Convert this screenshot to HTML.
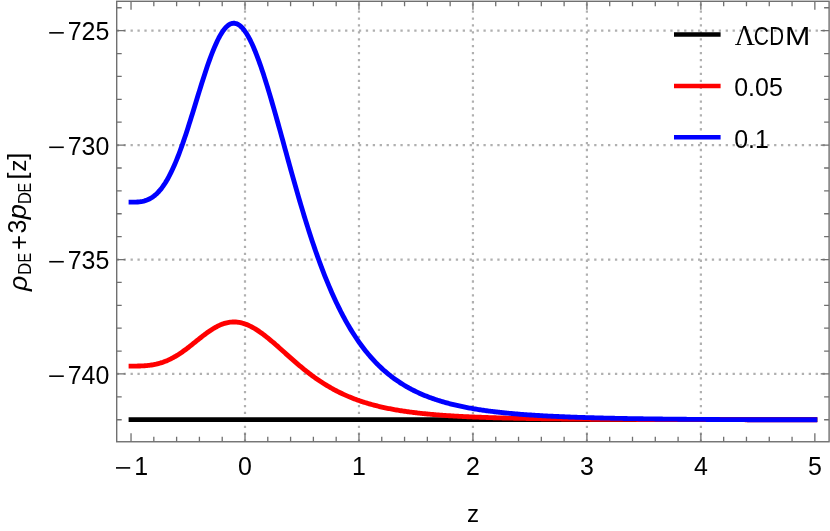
<!DOCTYPE html>
<html><head><meta charset="utf-8"><title>plot</title>
<style>html,body{margin:0;padding:0;background:#fff}svg{display:block;will-change:transform}text{font-family:"Liberation Sans",sans-serif;fill:#000}</style></head><body>
<svg width="830" height="531" viewBox="0 0 830 531">
<rect width="830" height="531" fill="#fff"/>
<path d="M245.00,441.8 V1 M358.97,441.8 V1 M472.94,441.8 V1 M586.91,441.8 V1 M700.88,441.8 V1 M116.7,30.65 H829 M116.7,145.09 H829 M116.7,259.53 H829 M116.7,373.97 H829" stroke="#b0b0b0" stroke-width="2.2" stroke-dasharray="2.3 4.62" fill="none"/>
<path d="M131.03,441.75 v-8.4 M131.03,1.3 v8.4 M153.82,441.75 v-5.0 M153.82,1.3 v5.0 M176.62,441.75 v-5.0 M176.62,1.3 v5.0 M199.41,441.75 v-5.0 M199.41,1.3 v5.0 M222.21,441.75 v-5.0 M222.21,1.3 v5.0 M245.00,441.75 v-8.4 M245.00,1.3 v8.4 M267.79,441.75 v-5.0 M267.79,1.3 v5.0 M290.59,441.75 v-5.0 M290.59,1.3 v5.0 M313.38,441.75 v-5.0 M313.38,1.3 v5.0 M336.18,441.75 v-5.0 M336.18,1.3 v5.0 M358.97,441.75 v-8.4 M358.97,1.3 v8.4 M381.76,441.75 v-5.0 M381.76,1.3 v5.0 M404.56,441.75 v-5.0 M404.56,1.3 v5.0 M427.35,441.75 v-5.0 M427.35,1.3 v5.0 M450.15,441.75 v-5.0 M450.15,1.3 v5.0 M472.94,441.75 v-8.4 M472.94,1.3 v8.4 M495.73,441.75 v-5.0 M495.73,1.3 v5.0 M518.53,441.75 v-5.0 M518.53,1.3 v5.0 M541.32,441.75 v-5.0 M541.32,1.3 v5.0 M564.12,441.75 v-5.0 M564.12,1.3 v5.0 M586.91,441.75 v-8.4 M586.91,1.3 v8.4 M609.70,441.75 v-5.0 M609.70,1.3 v5.0 M632.50,441.75 v-5.0 M632.50,1.3 v5.0 M655.29,441.75 v-5.0 M655.29,1.3 v5.0 M678.09,441.75 v-5.0 M678.09,1.3 v5.0 M700.88,441.75 v-8.4 M700.88,1.3 v8.4 M723.67,441.75 v-5.0 M723.67,1.3 v5.0 M746.47,441.75 v-5.0 M746.47,1.3 v5.0 M769.26,441.75 v-5.0 M769.26,1.3 v5.0 M792.06,441.75 v-5.0 M792.06,1.3 v5.0 M814.85,441.75 v-8.4 M814.85,1.3 v8.4 M116.7,419.75 h5.0 M829.1,419.75 h-5.0 M116.7,396.86 h5.0 M829.1,396.86 h-5.0 M116.7,373.97 h8.4 M829.1,373.97 h-8.4 M116.7,351.08 h5.0 M829.1,351.08 h-5.0 M116.7,328.19 h5.0 M829.1,328.19 h-5.0 M116.7,305.31 h5.0 M829.1,305.31 h-5.0 M116.7,282.42 h5.0 M829.1,282.42 h-5.0 M116.7,259.53 h8.4 M829.1,259.53 h-8.4 M116.7,236.64 h5.0 M829.1,236.64 h-5.0 M116.7,213.75 h5.0 M829.1,213.75 h-5.0 M116.7,190.87 h5.0 M829.1,190.87 h-5.0 M116.7,167.98 h5.0 M829.1,167.98 h-5.0 M116.7,145.09 h8.4 M829.1,145.09 h-8.4 M116.7,122.20 h5.0 M829.1,122.20 h-5.0 M116.7,99.31 h5.0 M829.1,99.31 h-5.0 M116.7,76.43 h5.0 M829.1,76.43 h-5.0 M116.7,53.54 h5.0 M829.1,53.54 h-5.0 M116.7,30.65 h8.4 M829.1,30.65 h-8.4 M116.7,7.76 h5.0 M829.1,7.76 h-5.0" stroke="#707070" stroke-width="1.3" fill="none"/>
<rect x="116.7" y="1.3" width="712.40" height="440.45" fill="none" stroke="#707070" stroke-width="1.4"/>
<path d="M131.03,419.65 H814.85" stroke="#000" stroke-width="4.85" stroke-linecap="square" fill="none"/>
<path d="M131.03,366.07 L132.17,366.07 L133.31,366.07 L134.45,366.07 L135.59,366.06 L136.73,366.05 L137.87,366.03 L139.01,366.00 L140.15,365.97 L141.29,365.93 L142.43,365.87 L143.57,365.81 L144.71,365.74 L145.85,365.65 L146.99,365.55 L148.13,365.43 L149.27,365.30 L150.40,365.15 L151.54,364.98 L152.68,364.80 L153.82,364.59 L154.96,364.37 L156.10,364.13 L157.24,363.86 L158.38,363.57 L159.52,363.26 L160.66,362.93 L161.80,362.57 L162.94,362.19 L164.08,361.78 L165.22,361.35 L166.36,360.89 L167.50,360.41 L168.64,359.90 L169.78,359.37 L170.92,358.81 L172.06,358.22 L173.20,357.62 L174.34,356.98 L175.48,356.33 L176.62,355.65 L177.76,354.94 L178.90,354.22 L180.04,353.47 L181.18,352.70 L182.32,351.91 L183.46,351.10 L184.60,350.28 L185.74,349.44 L186.88,348.58 L188.01,347.72 L189.15,346.84 L190.29,345.94 L191.43,345.04 L192.57,344.14 L193.71,343.22 L194.85,342.31 L195.99,341.39 L197.13,340.47 L198.27,339.56 L199.41,338.64 L200.55,337.74 L201.69,336.84 L202.83,335.95 L203.97,335.07 L205.11,334.21 L206.25,333.36 L207.39,332.53 L208.53,331.73 L209.67,330.94 L210.81,330.17 L211.95,329.43 L213.09,328.72 L214.23,328.03 L215.37,327.38 L216.51,326.76 L217.65,326.17 L218.79,325.61 L219.93,325.09 L221.07,324.61 L222.21,324.16 L223.35,323.76 L224.49,323.39 L225.63,323.07 L226.76,322.78 L227.90,322.54 L229.04,322.34 L230.18,322.18 L231.32,322.07 L232.46,322.00 L233.60,321.97 L234.74,321.98 L235.88,322.04 L237.02,322.14 L238.16,322.28 L239.30,322.46 L240.44,322.68 L241.58,322.94 L242.72,323.24 L243.86,323.59 L245.00,323.96 L246.14,324.38 L247.28,324.83 L248.42,325.32 L249.56,325.84 L250.70,326.40 L251.84,326.99 L252.98,327.60 L254.12,328.25 L255.26,328.93 L256.40,329.64 L257.54,330.37 L258.68,331.13 L259.82,331.91 L260.96,332.72 L262.10,333.54 L263.24,334.39 L264.37,335.25 L265.51,336.14 L266.65,337.04 L267.79,337.95 L268.93,338.88 L270.07,339.83 L271.21,340.78 L272.35,341.75 L273.49,342.72 L274.63,343.70 L275.77,344.70 L276.91,345.69 L278.05,346.69 L279.19,347.70 L280.33,348.71 L281.47,349.72 L282.61,350.75 L283.75,351.78 L284.89,352.80 L286.03,353.83 L287.17,354.85 L288.31,355.87 L289.45,356.89 L290.59,357.90 L291.73,358.91 L292.87,359.91 L294.01,360.91 L295.15,361.90 L296.29,362.88 L297.43,363.86 L298.57,364.82 L299.71,365.78 L300.85,366.73 L301.99,367.68 L303.12,368.61 L304.26,369.53 L305.40,370.44 L306.54,371.34 L307.68,372.23 L308.82,373.11 L309.96,373.98 L311.10,374.84 L312.24,375.69 L313.38,376.52 L314.52,377.35 L315.66,378.16 L316.80,378.96 L317.94,379.74 L319.08,380.52 L320.22,381.28 L321.36,382.03 L322.50,382.77 L323.64,383.50 L324.78,384.22 L325.92,384.92 L327.06,385.61 L328.20,386.29 L329.34,386.96 L330.48,387.62 L331.62,388.26 L332.76,388.90 L333.90,389.52 L335.04,390.13 L336.18,390.73 L337.32,391.32 L338.46,391.90 L339.60,392.46 L340.73,393.02 L341.87,393.56 L343.01,394.10 L344.15,394.62 L345.29,395.14 L346.43,395.64 L347.57,396.13 L348.71,396.62 L349.85,397.09 L350.99,397.56 L352.13,398.01 L353.27,398.46 L354.41,398.90 L355.55,399.32 L356.69,399.74 L357.83,400.16 L358.97,400.56 L360.11,400.95 L361.25,401.34 L362.39,401.72 L363.53,402.09 L364.67,402.45 L365.81,402.80 L366.95,403.15 L368.09,403.49 L369.23,403.82 L370.37,404.15 L371.51,404.47 L372.65,404.78 L373.79,405.09 L374.93,405.38 L376.07,405.68 L377.21,405.96 L378.34,406.24 L379.48,406.52 L380.62,406.79 L381.76,407.05 L382.90,407.30 L384.04,407.56 L385.18,407.80 L386.32,408.04 L387.46,408.28 L388.60,408.51 L389.74,408.73 L390.88,408.96 L392.02,409.17 L393.16,409.38 L394.30,409.59 L395.44,409.79 L396.58,409.99 L397.72,410.18 L398.86,410.37 L400.00,410.56 L401.14,410.74 L402.28,410.92 L403.42,411.09 L404.56,411.26 L405.70,411.43 L406.84,411.59 L407.98,411.75 L409.12,411.91 L410.26,412.06 L411.40,412.21 L412.54,412.35 L413.68,412.50 L414.82,412.64 L415.95,412.77 L417.09,412.91 L418.23,413.04 L419.37,413.17 L420.51,413.29 L421.65,413.42 L422.79,413.54 L423.93,413.65 L425.07,413.77 L426.21,413.88 L427.35,413.99 L428.49,414.10 L429.63,414.21 L430.77,414.31 L431.91,414.41 L433.05,414.51 L434.19,414.61 L435.33,414.71 L436.47,414.80 L437.61,414.89 L438.75,414.98 L439.89,415.07 L441.03,415.16 L442.17,415.24 L443.31,415.32 L444.45,415.40 L445.59,415.48 L446.73,415.56 L447.87,415.64 L449.01,415.71 L450.15,415.78 L451.29,415.85 L452.43,415.92 L453.57,415.99 L454.70,416.06 L455.84,416.13 L456.98,416.19 L458.12,416.25 L459.26,416.32 L460.40,416.38 L461.54,416.44 L462.68,416.49 L463.82,416.55 L464.96,416.61 L466.10,416.66 L467.24,416.72 L468.38,416.77 L469.52,416.82 L470.66,416.87 L471.80,416.92 L472.94,416.97 L474.08,417.02 L475.22,417.07 L476.36,417.11 L477.50,417.16 L478.64,417.20 L479.78,417.24 L480.92,417.29 L482.06,417.33 L483.20,417.37 L484.34,417.41 L485.48,417.45 L486.62,417.49 L487.76,417.53 L488.90,417.56 L490.04,417.60 L491.18,417.64 L492.31,417.67 L493.45,417.71 L494.59,417.74 L495.73,417.77 L496.87,417.80 L498.01,417.84 L499.15,417.87 L500.29,417.90 L501.43,417.93 L502.57,417.96 L503.71,417.99 L504.85,418.02 L505.99,418.05 L507.13,418.07 L508.27,418.10 L509.41,418.13 L510.55,418.15 L511.69,418.18 L512.83,418.20 L513.97,418.23 L515.11,418.25 L516.25,418.28 L517.39,418.30 L518.53,418.32 L519.67,418.35 L520.81,418.37 L521.95,418.39 L523.09,418.41 L524.23,418.43 L525.37,418.45 L526.51,418.47 L527.65,418.49 L528.79,418.51 L529.92,418.53 L531.06,418.55 L532.20,418.57 L533.34,418.59 L534.48,418.61 L535.62,418.62 L536.76,418.64 L537.90,418.66 L539.04,418.68 L540.18,418.69 L541.32,418.71 L542.46,418.72 L543.60,418.74 L544.74,418.76 L545.88,418.77 L547.02,418.79 L548.16,418.80 L549.30,418.81 L550.44,418.83 L551.58,418.84 L552.72,418.86 L553.86,418.87 L555.00,418.88 L556.14,418.90 L557.28,418.91 L558.42,418.92 L559.56,418.93 L560.70,418.95 L561.84,418.96 L562.98,418.97 L564.12,418.98 L565.26,418.99 L566.40,419.00 L567.54,419.02 L568.67,419.03 L569.81,419.04 L570.95,419.05 L572.09,419.06 L573.23,419.07 L574.37,419.08 L575.51,419.09 L576.65,419.10 L577.79,419.11 L578.93,419.12 L580.07,419.13 L581.21,419.14 L582.35,419.15 L583.49,419.15 L584.63,419.16 L585.77,419.17 L586.91,419.18 L588.05,419.19 L589.19,419.20 L590.33,419.21 L591.47,419.21 L592.61,419.22 L593.75,419.23 L594.89,419.24 L596.03,419.24 L597.17,419.25 L598.31,419.26 L599.45,419.27 L600.59,419.27 L601.73,419.28 L602.87,419.29 L604.01,419.29 L605.15,419.30 L606.28,419.31 L607.42,419.31 L608.56,419.32 L609.70,419.33 L610.84,419.33 L611.98,419.34 L613.12,419.34 L614.26,419.35 L615.40,419.36 L616.54,419.36 L617.68,419.37 L618.82,419.37 L619.96,419.38 L621.10,419.38 L622.24,419.39 L623.38,419.40 L624.52,419.40 L625.66,419.41 L626.80,419.41 L627.94,419.42 L629.08,419.42 L630.22,419.43 L631.36,419.43 L632.50,419.44 L633.64,419.44 L634.78,419.44 L635.92,419.45 L637.06,419.45 L638.20,419.46 L639.34,419.46 L640.48,419.47 L641.62,419.47 L642.76,419.47 L643.89,419.48 L645.03,419.48 L646.17,419.49 L647.31,419.49 L648.45,419.50 L649.59,419.50 L650.73,419.50 L651.87,419.51 L653.01,419.51 L654.15,419.51 L655.29,419.52 L656.43,419.52 L657.57,419.52 L658.71,419.53 L659.85,419.53 L660.99,419.53 L662.13,419.54 L663.27,419.54 L664.41,419.54 L665.55,419.55 L666.69,419.55 L667.83,419.55 L668.97,419.56 L670.11,419.56 L671.25,419.56 L672.39,419.57 L673.53,419.57 L674.67,419.57 L675.81,419.58 L676.95,419.58 L678.09,419.58 L679.23,419.58 L680.37,419.59 L681.51,419.59 L682.64,419.59 L683.78,419.59 L684.92,419.60 L686.06,419.60 L687.20,419.60 L688.34,419.60 L689.48,419.61 L690.62,419.61 L691.76,419.61 L692.90,419.61 L694.04,419.62 L695.18,419.62 L696.32,419.62 L697.46,419.62 L698.60,419.63 L699.74,419.63 L700.88,419.63 L702.02,419.63 L703.16,419.63 L704.30,419.64 L705.44,419.64 L706.58,419.64 L707.72,419.64 L708.86,419.64 L710.00,419.65 L711.14,419.65 L712.28,419.65 L713.42,419.65 L714.56,419.65 L715.70,419.66 L716.84,419.66 L717.98,419.66 L719.12,419.66 L720.25,419.66 L721.39,419.66 L722.53,419.67 L723.67,419.67 L724.81,419.67 L725.95,419.67 L727.09,419.67 L728.23,419.68 L729.37,419.68 L730.51,419.68 L731.65,419.68 L732.79,419.68 L733.93,419.68 L735.07,419.68 L736.21,419.69 L737.35,419.69 L738.49,419.69 L739.63,419.69 L740.77,419.69 L741.91,419.69 L743.05,419.69 L744.19,419.70 L745.33,419.70 L746.47,419.70 L747.61,419.70 L748.75,419.70 L749.89,419.70 L751.03,419.70 L752.17,419.70 L753.31,419.70 L754.45,419.70 L755.59,419.70 L756.73,419.70 L757.87,419.70 L759.00,419.70 L760.14,419.70 L761.28,419.70 L762.42,419.70 L763.56,419.70 L764.70,419.70 L765.84,419.70 L766.98,419.70 L768.12,419.70 L769.26,419.70 L770.40,419.70 L771.54,419.70 L772.68,419.70 L773.82,419.70 L774.96,419.70 L776.10,419.70 L777.24,419.70 L778.38,419.70 L779.52,419.70 L780.66,419.70 L781.80,419.70 L782.94,419.70 L784.08,419.70 L785.22,419.70 L786.36,419.70 L787.50,419.70 L788.64,419.70 L789.78,419.70 L790.92,419.70 L792.06,419.70 L793.20,419.70 L794.34,419.70 L795.48,419.70 L796.61,419.70 L797.75,419.70 L798.89,419.70 L800.03,419.70 L801.17,419.70 L802.31,419.70 L803.45,419.70 L804.59,419.70 L805.73,419.70 L806.87,419.70 L808.01,419.70 L809.15,419.70 L810.29,419.70 L811.43,419.70 L812.57,419.70 L813.71,419.70 L814.85,419.70" stroke="#f00" stroke-width="4.85" stroke-linecap="square" stroke-linejoin="round" fill="none"/>
<path d="M131.03,202.15 L132.17,202.15 L133.31,202.14 L134.45,202.12 L135.59,202.09 L136.73,202.04 L137.87,201.96 L139.01,201.86 L140.15,201.72 L141.29,201.55 L142.43,201.34 L143.57,201.08 L144.71,200.78 L145.85,200.42 L146.99,200.01 L148.13,199.54 L149.27,199.00 L150.40,198.40 L151.54,197.73 L152.68,196.98 L153.82,196.15 L154.96,195.24 L156.10,194.25 L157.24,193.17 L158.38,192.00 L159.52,190.74 L160.66,189.38 L161.80,187.93 L162.94,186.38 L164.08,184.73 L165.22,182.97 L166.36,181.12 L167.50,179.16 L168.64,177.10 L169.78,174.94 L170.92,172.68 L172.06,170.31 L173.20,167.84 L174.34,165.27 L175.48,162.61 L176.62,159.84 L177.76,156.99 L178.90,154.04 L180.04,151.01 L181.18,147.89 L182.32,144.69 L183.46,141.42 L184.60,138.08 L185.74,134.67 L186.88,131.20 L188.01,127.68 L189.15,124.10 L190.29,120.49 L191.43,116.84 L192.57,113.16 L193.71,109.45 L194.85,105.74 L195.99,102.01 L197.13,98.29 L198.27,94.57 L199.41,90.87 L200.55,87.20 L201.69,83.55 L202.83,79.95 L203.97,76.39 L205.11,72.89 L206.25,69.45 L207.39,66.09 L208.53,62.80 L209.67,59.61 L210.81,56.50 L211.95,53.50 L213.09,50.61 L214.23,47.83 L215.37,45.18 L216.51,42.65 L217.65,40.26 L218.79,38.00 L219.93,35.90 L221.07,33.94 L222.21,32.13 L223.35,30.48 L224.49,29.00 L225.63,27.68 L226.76,26.52 L227.90,25.54 L229.04,24.73 L230.18,24.09 L231.32,23.62 L232.46,23.33 L233.60,23.22 L234.74,23.28 L235.88,23.51 L237.02,23.91 L238.16,24.48 L239.30,25.21 L240.44,26.11 L241.58,27.18 L242.72,28.40 L243.86,29.78 L245.00,31.32 L246.14,33.00 L247.28,34.84 L248.42,36.82 L249.56,38.94 L250.70,41.19 L251.84,43.57 L252.98,46.09 L254.12,48.72 L255.26,51.47 L256.40,54.34 L257.54,57.31 L258.68,60.38 L259.82,63.56 L260.96,66.82 L262.10,70.17 L263.24,73.61 L264.37,77.12 L265.51,80.71 L266.65,84.36 L267.79,88.07 L268.93,91.84 L270.07,95.67 L271.21,99.54 L272.35,103.46 L273.49,107.41 L274.63,111.40 L275.77,115.42 L276.91,119.47 L278.05,123.53 L279.19,127.62 L280.33,131.71 L281.47,135.82 L282.61,139.98 L283.75,144.14 L284.89,148.30 L286.03,152.46 L287.17,156.61 L288.31,160.75 L289.45,164.88 L290.59,168.98 L291.73,173.07 L292.87,177.14 L294.01,181.19 L295.15,185.20 L296.29,189.19 L297.43,193.15 L298.57,197.08 L299.71,200.97 L300.85,204.83 L301.99,208.65 L303.12,212.43 L304.26,216.17 L305.40,219.87 L306.54,223.53 L307.68,227.14 L308.82,230.71 L309.96,234.24 L311.10,237.72 L312.24,241.15 L313.38,244.54 L314.52,247.87 L315.66,251.17 L316.80,254.41 L317.94,257.61 L319.08,260.75 L320.22,263.85 L321.36,266.90 L322.50,269.90 L323.64,272.85 L324.78,275.76 L325.92,278.61 L327.06,281.42 L328.20,284.18 L329.34,286.89 L330.48,289.55 L331.62,292.17 L332.76,294.74 L333.90,297.27 L335.04,299.74 L336.18,302.18 L337.32,304.56 L338.46,306.90 L339.60,309.20 L340.73,311.46 L341.87,313.67 L343.01,315.84 L344.15,317.96 L345.29,320.05 L346.43,322.09 L347.57,324.10 L348.71,326.06 L349.85,327.99 L350.99,329.87 L352.13,331.72 L353.27,333.53 L354.41,335.30 L355.55,337.04 L356.69,338.74 L357.83,340.41 L358.97,342.04 L360.11,343.64 L361.25,345.21 L362.39,346.74 L363.53,348.24 L364.67,349.71 L365.81,351.15 L366.95,352.56 L368.09,353.94 L369.23,355.29 L370.37,356.61 L371.51,357.91 L372.65,359.17 L373.79,360.41 L374.93,361.62 L376.07,362.81 L377.21,363.97 L378.34,365.11 L379.48,366.22 L380.62,367.31 L381.76,368.37 L382.90,369.42 L384.04,370.44 L385.18,371.43 L386.32,372.41 L387.46,373.37 L388.60,374.30 L389.74,375.22 L390.88,376.11 L392.02,376.99 L393.16,377.84 L394.30,378.68 L395.44,379.50 L396.58,380.31 L397.72,381.09 L398.86,381.86 L400.00,382.61 L401.14,383.35 L402.28,384.07 L403.42,384.77 L404.56,385.46 L405.70,386.14 L406.84,386.80 L407.98,387.45 L409.12,388.08 L410.26,388.70 L411.40,389.30 L412.54,389.90 L413.68,390.48 L414.82,391.04 L415.95,391.60 L417.09,392.14 L418.23,392.68 L419.37,393.20 L420.51,393.71 L421.65,394.21 L422.79,394.70 L423.93,395.18 L425.07,395.64 L426.21,396.10 L427.35,396.55 L428.49,396.99 L429.63,397.42 L430.77,397.84 L431.91,398.26 L433.05,398.66 L434.19,399.06 L435.33,399.44 L436.47,399.82 L437.61,400.19 L438.75,400.56 L439.89,400.91 L441.03,401.26 L442.17,401.61 L443.31,401.94 L444.45,402.27 L445.59,402.59 L446.73,402.90 L447.87,403.21 L449.01,403.51 L450.15,403.81 L451.29,404.10 L452.43,404.38 L453.57,404.66 L454.70,404.93 L455.84,405.20 L456.98,405.46 L458.12,405.72 L459.26,405.97 L460.40,406.22 L461.54,406.46 L462.68,406.70 L463.82,406.93 L464.96,407.16 L466.10,407.38 L467.24,407.60 L468.38,407.81 L469.52,408.02 L470.66,408.23 L471.80,408.43 L472.94,408.63 L474.08,408.82 L475.22,409.01 L476.36,409.20 L477.50,409.38 L478.64,409.56 L479.78,409.74 L480.92,409.91 L482.06,410.08 L483.20,410.25 L484.34,410.41 L485.48,410.57 L486.62,410.73 L487.76,410.88 L488.90,411.03 L490.04,411.18 L491.18,411.32 L492.31,411.47 L493.45,411.61 L494.59,411.74 L495.73,411.88 L496.87,412.01 L498.01,412.14 L499.15,412.27 L500.29,412.39 L501.43,412.52 L502.57,412.64 L503.71,412.76 L504.85,412.87 L505.99,412.99 L507.13,413.10 L508.27,413.21 L509.41,413.32 L510.55,413.42 L511.69,413.53 L512.83,413.63 L513.97,413.73 L515.11,413.83 L516.25,413.92 L517.39,414.02 L518.53,414.11 L519.67,414.21 L520.81,414.30 L521.95,414.38 L523.09,414.47 L524.23,414.56 L525.37,414.64 L526.51,414.72 L527.65,414.80 L528.79,414.88 L529.92,414.96 L531.06,415.04 L532.20,415.12 L533.34,415.19 L534.48,415.26 L535.62,415.33 L536.76,415.40 L537.90,415.47 L539.04,415.54 L540.18,415.61 L541.32,415.68 L542.46,415.74 L543.60,415.80 L544.74,415.87 L545.88,415.93 L547.02,415.99 L548.16,416.05 L549.30,416.11 L550.44,416.16 L551.58,416.22 L552.72,416.28 L553.86,416.33 L555.00,416.39 L556.14,416.44 L557.28,416.49 L558.42,416.54 L559.56,416.59 L560.70,416.64 L561.84,416.69 L562.98,416.74 L564.12,416.79 L565.26,416.83 L566.40,416.88 L567.54,416.92 L568.67,416.97 L569.81,417.01 L570.95,417.06 L572.09,417.10 L573.23,417.14 L574.37,417.18 L575.51,417.22 L576.65,417.26 L577.79,417.30 L578.93,417.34 L580.07,417.38 L581.21,417.41 L582.35,417.45 L583.49,417.49 L584.63,417.52 L585.77,417.56 L586.91,417.59 L588.05,417.63 L589.19,417.66 L590.33,417.69 L591.47,417.72 L592.61,417.76 L593.75,417.79 L594.89,417.82 L596.03,417.85 L597.17,417.88 L598.31,417.91 L599.45,417.94 L600.59,417.97 L601.73,418.00 L602.87,418.02 L604.01,418.05 L605.15,418.08 L606.28,418.11 L607.42,418.13 L608.56,418.16 L609.70,418.18 L610.84,418.21 L611.98,418.23 L613.12,418.26 L614.26,418.28 L615.40,418.31 L616.54,418.33 L617.68,418.35 L618.82,418.38 L619.96,418.40 L621.10,418.42 L622.24,418.44 L623.38,418.46 L624.52,418.48 L625.66,418.51 L626.80,418.53 L627.94,418.55 L629.08,418.57 L630.22,418.59 L631.36,418.61 L632.50,418.63 L633.64,418.64 L634.78,418.66 L635.92,418.68 L637.06,418.70 L638.20,418.72 L639.34,418.74 L640.48,418.75 L641.62,418.77 L642.76,418.79 L643.89,418.80 L645.03,418.82 L646.17,418.84 L647.31,418.85 L648.45,418.87 L649.59,418.88 L650.73,418.90 L651.87,418.92 L653.01,418.93 L654.15,418.94 L655.29,418.96 L656.43,418.97 L657.57,418.99 L658.71,419.00 L659.85,419.02 L660.99,419.03 L662.13,419.04 L663.27,419.06 L664.41,419.07 L665.55,419.08 L666.69,419.10 L667.83,419.11 L668.97,419.12 L670.11,419.13 L671.25,419.15 L672.39,419.16 L673.53,419.17 L674.67,419.18 L675.81,419.19 L676.95,419.20 L678.09,419.22 L679.23,419.23 L680.37,419.24 L681.51,419.25 L682.64,419.26 L683.78,419.27 L684.92,419.28 L686.06,419.29 L687.20,419.30 L688.34,419.31 L689.48,419.32 L690.62,419.33 L691.76,419.34 L692.90,419.35 L694.04,419.36 L695.18,419.37 L696.32,419.38 L697.46,419.39 L698.60,419.40 L699.74,419.41 L700.88,419.42 L702.02,419.42 L703.16,419.43 L704.30,419.44 L705.44,419.45 L706.58,419.46 L707.72,419.47 L708.86,419.47 L710.00,419.48 L711.14,419.49 L712.28,419.50 L713.42,419.51 L714.56,419.51 L715.70,419.52 L716.84,419.53 L717.98,419.54 L719.12,419.54 L720.25,419.55 L721.39,419.56 L722.53,419.56 L723.67,419.57 L724.81,419.58 L725.95,419.59 L727.09,419.59 L728.23,419.60 L729.37,419.61 L730.51,419.61 L731.65,419.62 L732.79,419.62 L733.93,419.63 L735.07,419.64 L736.21,419.64 L737.35,419.65 L738.49,419.66 L739.63,419.66 L740.77,419.67 L741.91,419.67 L743.05,419.68 L744.19,419.68 L745.33,419.69 L746.47,419.70 L747.61,419.70 L748.75,419.70 L749.89,419.70 L751.03,419.70 L752.17,419.70 L753.31,419.70 L754.45,419.70 L755.59,419.70 L756.73,419.70 L757.87,419.70 L759.00,419.70 L760.14,419.70 L761.28,419.70 L762.42,419.70 L763.56,419.70 L764.70,419.70 L765.84,419.70 L766.98,419.70 L768.12,419.70 L769.26,419.70 L770.40,419.70 L771.54,419.70 L772.68,419.70 L773.82,419.70 L774.96,419.70 L776.10,419.70 L777.24,419.70 L778.38,419.70 L779.52,419.70 L780.66,419.70 L781.80,419.70 L782.94,419.70 L784.08,419.70 L785.22,419.70 L786.36,419.70 L787.50,419.70 L788.64,419.70 L789.78,419.70 L790.92,419.70 L792.06,419.70 L793.20,419.70 L794.34,419.70 L795.48,419.70 L796.61,419.70 L797.75,419.70 L798.89,419.70 L800.03,419.70 L801.17,419.70 L802.31,419.70 L803.45,419.70 L804.59,419.70 L805.73,419.70 L806.87,419.70 L808.01,419.70 L809.15,419.70 L810.29,419.70 L811.43,419.70 L812.57,419.70 L813.71,419.70 L814.85,419.70" stroke="#00f" stroke-width="4.85" stroke-linecap="square" stroke-linejoin="round" fill="none"/>
<text transform="translate(245.00,475.00) scale(0.96,1)" font-size="26" text-anchor="middle" >0</text>
<text transform="translate(358.97,475.00) scale(0.96,1)" font-size="26" text-anchor="middle" >1</text>
<text transform="translate(472.94,475.00) scale(0.96,1)" font-size="26" text-anchor="middle" >2</text>
<text transform="translate(586.91,475.00) scale(0.96,1)" font-size="26" text-anchor="middle" >3</text>
<text transform="translate(700.88,475.00) scale(0.96,1)" font-size="26" text-anchor="middle" >4</text>
<text transform="translate(814.85,475.00) scale(0.96,1)" font-size="26" text-anchor="middle" >5</text>
<path d="M116.00,467.90 H130.20" stroke="#000" stroke-width="1.6" fill="none"/>
<text transform="translate(141.30,475.00) scale(0.96,1)" font-size="26" text-anchor="middle" >1</text>
<text transform="translate(109.30,40.25) scale(0.96,1)" font-size="26" text-anchor="end" >725</text>
<path d="M49.20,32.85 H63.80" stroke="#000" stroke-width="1.6" fill="none"/>
<text transform="translate(109.30,154.69) scale(0.96,1)" font-size="26" text-anchor="end" >730</text>
<path d="M49.20,147.29 H63.80" stroke="#000" stroke-width="1.6" fill="none"/>
<text transform="translate(109.30,269.13) scale(0.96,1)" font-size="26" text-anchor="end" >735</text>
<path d="M49.20,261.73 H63.80" stroke="#000" stroke-width="1.6" fill="none"/>
<text transform="translate(109.30,383.57) scale(0.96,1)" font-size="26" text-anchor="end" >740</text>
<path d="M49.20,376.17 H63.80" stroke="#000" stroke-width="1.6" fill="none"/>
<text transform="translate(473.00,522.40) scale(1.05,1)" font-size="23" text-anchor="middle" >z</text>
<path d="M674,34.6 H720.6" stroke="#000" stroke-width="4.5" fill="none"/>
<path d="M674,86 H720.6" stroke="#f00" stroke-width="4.5" fill="none"/>
<path d="M674,137.2 H720.6" stroke="#00f" stroke-width="4.5" fill="none"/>
<text transform="translate(734.8,45.0) scale(0.92,1)" font-family="Liberation Serif" font-size="30.3" style="font-family:'Liberation Serif',serif">Λ</text>
<text transform="translate(753.80,45.00) scale(0.81,1)" font-size="26" text-anchor="start" >C</text>
<text transform="translate(769.20,45.00) scale(0.79,1)" font-size="26" text-anchor="start" >D</text>
<text transform="translate(784.90,45.00) scale(1.17,1)" font-size="26" text-anchor="start" >M</text>
<text transform="translate(734.20,96.40) scale(0.96,1)" font-size="26" text-anchor="start" >0.05</text>
<text transform="translate(734.20,147.60) scale(0.96,1)" font-size="26" text-anchor="start" >0.1</text>
<text transform="translate(27.3,291) rotate(-90) scale(1.03,1)" font-size="26" font-style="italic">ρ</text>
<text transform="translate(31.0,275) rotate(-90) scale(0.92,1)" font-size="18.5" >D</text>
<text transform="translate(31.0,262.6) rotate(-90) scale(0.78,1)" font-size="18.5" >E</text>
<text transform="translate(27.8,250.1) rotate(-90) scale(0.96,1)" font-size="27" >+</text>
<text transform="translate(26.3,233.5) rotate(-90) scale(0.96,1)" font-size="26" >3</text>
<text transform="translate(26.3,219.2) rotate(-90) scale(1.04,1)" font-size="26" font-style="italic">p</text>
<text transform="translate(31.0,204.3) rotate(-90) scale(0.92,1)" font-size="18.5" >D</text>
<text transform="translate(31.0,192.6) rotate(-90) scale(0.78,1)" font-size="18.5" >E</text>
<text transform="translate(26.3,179.5) rotate(-90) scale(0.96,1)" font-size="26" >[</text>
<text transform="translate(26.3,171.8) rotate(-90) scale(1.06,1)" font-size="23" >z</text>
<text transform="translate(26.3,159.7) rotate(-90) scale(0.96,1)" font-size="26" >]</text>
</svg></body></html>
